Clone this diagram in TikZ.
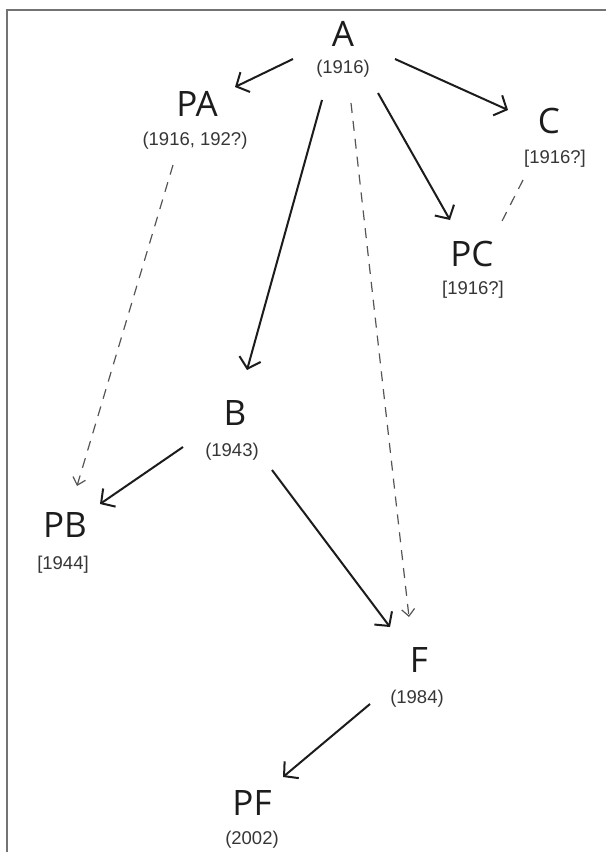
\documentclass[tikz,border=0pt]{standalone}
\usepackage{fontspec}
\setmainfont{Liberation Sans}
\newfontfamily\letterfont{Open Sans}
\usetikzlibrary{arrows.meta,calc}
\definecolor{inkdark}{HTML}{1C1C1C}
\definecolor{inklab}{HTML}{363636}
\definecolor{dashgray}{HTML}{555555}
\tikzset{
  letter/.style={font=\letterfont\fontsize{35}{37}\selectfont, text=inkdark, inner sep=0pt},
  yearlab/.style={font=\fontsize{18.5}{20}\selectfont, text=inklab, inner sep=0pt},
  solidarrow/.style={line width=2pt, draw=inkdark, -{Straight Barb[length=10pt,width=22pt,line width=2pt]}},
  dasharrow/.style={line width=1.2pt, draw=dashgray, dash pattern=on 10pt off 8pt, -{Straight Barb[length=7pt,width=13pt,line width=1.2pt]}},
  dashline/.style={line width=1.2pt, draw=dashgray, dash pattern=on 10pt off 8pt},
  frameline/.style={line width=1.6pt, draw=black!55}
}
\begin{document}
\begin{tikzpicture}[x=1pt,y=-1pt]
\useasboundingbox (0,0) rectangle (606,852);
\fill[white] (0,0) rectangle (606,852);
\coordinate (fTL) at (7,10);
\coordinate (fTR) at (606,10);
\coordinate (fBL) at (7,852);
\draw[frameline] (fTR) -- (fTL) -- (fBL);

\node[letter] (A) at (343,34) {A};
\node[yearlab] (A-y) at (343,69) {(1916)};
\node[letter] (PA) at (197,104) {PA};
\node[yearlab] (PA-y) at (195,141) {(1916, 192?)};
\node[letter] (C) at (549,121) {C};
\node[yearlab] (C-y) at (555,159) {[1916?]};
\node[letter] (PC) at (472,254) {PC};
\node[yearlab] (PC-y) at (473,290) {[1916?]};
\node[letter] (B) at (235,413) {B};
\node[yearlab] (B-y) at (232,452) {(1943)};
\node[letter] (PB) at (65,525) {PB};
\node[yearlab] (PB-y) at (63,565) {[1944]};
\node[letter] (F) at (419,660) {F};
\node[yearlab] (F-y) at (417,699) {(1984)};
\node[letter] (PF) at (252,803) {PF};
\node[yearlab] (PF-y) at (252,840) {(2002)};

\draw[solidarrow] ($(A)+(-50,25)$) -- ($(PA)+(38,-17)$);
\draw[solidarrow] ($(A)+(52,25)$) -- ($(C)+(-41,-11)$);
\draw[solidarrow] ($(A)+(-21,66)$) -- ($(B)+(12,-43)$);
\draw[solidarrow] ($(A)+(35,59)$) -- ($(PC)+(-22,-34)$);
\draw[dasharrow] ($(A)+(8,69)$) -- ($(F)+(-10,-43)$);
\draw[dasharrow] ($(PA)+(-24,61)$) -- ($(PB)+(12,-39)$);
\draw[dashline] ($(C)+(-26,59)$) -- ($(PC)+(28,-29)$);
\draw[solidarrow] ($(B)+(-52,34)$) -- ($(PB)+(35,-21)$);
\draw[solidarrow] ($(B)+(37,57)$) -- ($(F)+(-29,-33)$);
\draw[solidarrow] ($(F)+(-49,44)$) -- ($(PF)+(31,-26)$);
\end{tikzpicture}
\end{document}
